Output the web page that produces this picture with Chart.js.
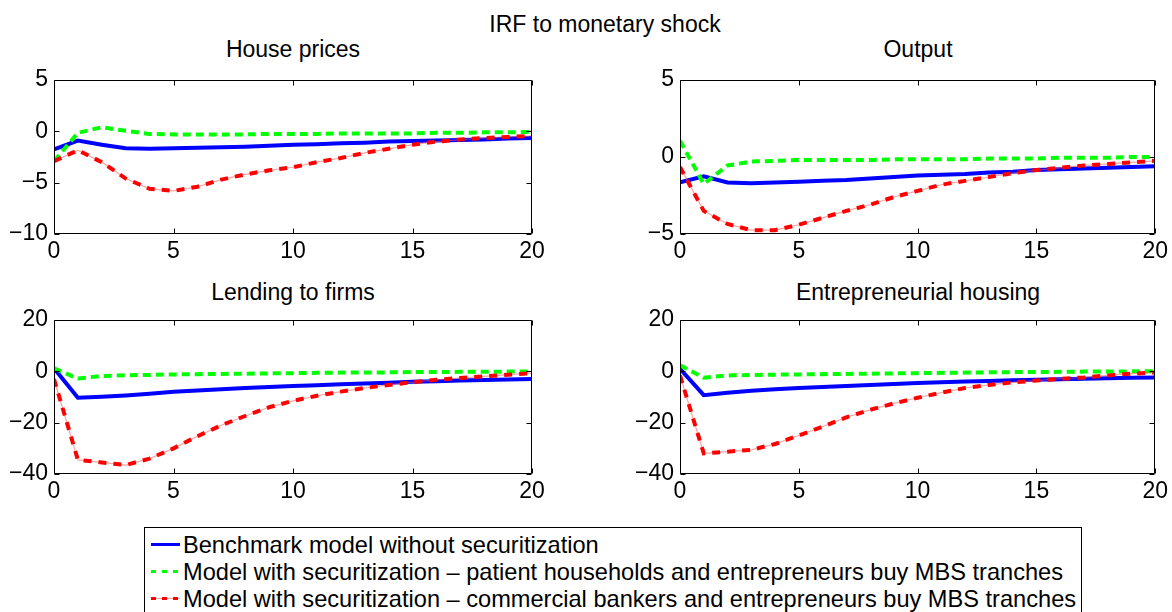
<!DOCTYPE html>
<html>
<head>
<meta charset="utf-8">
<title>IRF to monetary shock</title>
<script src="https://cdn.jsdelivr.net/npm/chart.js@4"></script>
<style>
  html, body { margin: 0; padding: 0; background: #fff; }
  body {
    width: 1172px; height: 612px; position: relative; overflow: hidden;
    font-family: "Liberation Sans", Arial, Helvetica, sans-serif; color: #000;
  }
  .panel { position: absolute; }
  .title {
    position: absolute; font-size: 23px; line-height: 23px;
    white-space: nowrap; transform: translateX(-50%);
  }
  #legend {
    position: absolute; left: 144px; top: 527px; width: 936px; height: 120px;
    border: 1px solid #000; background: #fff;
  }
  .row { position: absolute; left: 0; height: 27px; font-size: 23.6px; line-height: 27px; white-space: nowrap; }
  .row svg { position: absolute; left: 6px; top: 0; }
  .row span { position: absolute; left: 38px; top: 0; }
</style>
</head>
<body>
<div class="title" style="left:605px;top:13px">IRF to monetary shock</div>
<div class="title" style="left:293px;top:38px">House prices</div>
<div class="title" style="left:918px;top:38px">Output</div>
<div class="title" style="left:293px;top:281px">Lending to firms</div>
<div class="title" style="left:918px;top:281px">Entrepreneurial housing</div>

<div class="panel" style="left:0;top:60px;width:560px;height:210px"><canvas id="housePrices"></canvas></div>
<div class="panel" style="left:620px;top:60px;width:552px;height:210px"><canvas id="output"></canvas></div>
<div class="panel" style="left:0;top:300px;width:560px;height:210px"><canvas id="lending"></canvas></div>
<div class="panel" style="left:620px;top:300px;width:552px;height:210px"><canvas id="entHousing"></canvas></div>

<div id="legend">
  <div class="row" style="top:3.5px">
    <svg width="30" height="27"><line x1="0" y1="12.5" x2="29" y2="12.5" stroke="#0000ff" stroke-width="3"/></svg>
    <span>Benchmark model without securitization</span>
  </div>
  <div class="row" style="top:30.5px">
    <svg width="30" height="27"><line x1="0" y1="12.5" x2="29" y2="12.5" stroke="#00ff00" stroke-width="3" stroke-dasharray="5 6"/></svg>
    <span>Model with securitization – patient households and entrepreneurs buy MBS tranches</span>
  </div>
  <div class="row" style="top:57.5px">
    <svg width="30" height="27">
      <line x1="0" y1="12.5" x2="29" y2="12.5" stroke="rgba(255,90,90,0.55)" stroke-width="1"/>
      <line x1="0" y1="12.5" x2="29" y2="12.5" stroke="#ff0000" stroke-width="3" stroke-dasharray="5 6"/>
    </svg>
    <span>Model with securitization – commercial bankers and entrepreneurs buy MBS tranches</span>
  </div>
</div>

<script>
const periods = [0, 1, 2, 3, 4, 5, 6, 7, 8, 9, 10, 11, 12, 13, 14, 15, 16, 17, 18, 19, 20];
const xTicks = [0, 5, 10, 15, 20];

// House prices
const houseBenchmark = [-1.75, -0.9, -1.3, -1.65, -1.7, -1.65, -1.6, -1.55, -1.5, -1.4, -1.3, -1.25, -1.15, -1.1, -1.0, -0.95, -0.9, -0.85, -0.8, -0.7, -0.65];
const housePatient = [-2.9, -0.15, 0.4, 0.05, -0.25, -0.3, -0.3, -0.3, -0.3, -0.25, -0.25, -0.25, -0.2, -0.2, -0.2, -0.2, -0.15, -0.15, -0.1, -0.1, -0.05];
const houseBankers = [-2.9, -1.85, -3.0, -4.6, -5.6, -5.8, -5.4, -4.7, -4.2, -3.8, -3.5, -3.0, -2.6, -2.1, -1.7, -1.3, -1.0, -0.8, -0.65, -0.55, -0.45];

// Output
const outputBenchmark = [-1.65, -1.25, -1.65, -1.7, -1.65, -1.6, -1.55, -1.5, -1.4, -1.3, -1.2, -1.15, -1.1, -1.0, -0.95, -0.85, -0.8, -0.75, -0.7, -0.65, -0.6];
const outputPatient = [1.05, -1.75, -0.55, -0.3, -0.25, -0.2, -0.2, -0.2, -0.2, -0.15, -0.15, -0.15, -0.15, -0.1, -0.1, -0.1, -0.05, -0.05, -0.05, 0, 0];
const outputBankers = [-0.65, -3.5, -4.35, -4.75, -4.75, -4.4, -3.95, -3.5, -3.1, -2.6, -2.2, -1.8, -1.55, -1.3, -1.05, -0.85, -0.7, -0.55, -0.45, -0.35, -0.25];

// Lending to firms
const lendingBenchmark = [1.2, -10.3, -9.9, -9.4, -8.7, -8.0, -7.5, -7.0, -6.5, -6.1, -5.7, -5.4, -5.0, -4.7, -4.4, -4.1, -3.9, -3.6, -3.4, -3.2, -3.0];
const lendingPatient = [1.2, -2.8, -1.8, -1.5, -1.4, -1.2, -1.1, -1.0, -0.9, -0.8, -0.7, -0.6, -0.5, -0.5, -0.4, -0.3, -0.3, -0.2, -0.2, -0.1, -0.1];
const lendingBankers = [-3.0, -34.5, -35.5, -36.5, -34.0, -30.0, -25.3, -21.0, -17.4, -14.0, -11.5, -9.5, -7.9, -6.5, -5.3, -4.2, -3.3, -2.6, -2.0, -1.3, -0.7];

// Entrepreneurial housing
const entBenchmark = [1.0, -9.3, -8.3, -7.6, -7.0, -6.5, -6.1, -5.7, -5.3, -4.9, -4.5, -4.3, -4.0, -3.8, -3.5, -3.3, -3.1, -2.9, -2.7, -2.5, -2.4];
const entPatient = [2.4, -2.5, -1.6, -1.4, -1.3, -1.2, -1.1, -1.0, -0.9, -0.8, -0.7, -0.6, -0.5, -0.4, -0.3, -0.3, -0.2, -0.1, -0.1, 0, 0];
const entBankers = [-1.6, -32.0, -31.3, -30.6, -28.3, -25.0, -21.6, -17.9, -15.0, -12.5, -10.3, -8.3, -6.5, -5.3, -4.3, -3.6, -2.9, -2.4, -1.6, -0.9, -0.5];

const FONT = { family: '"Liberation Sans", Arial, Helvetica, sans-serif', size: 23 };

// matlab-style box with inward ticks
const boxPlugin = {
  id: 'matlabBox',
  afterDatasetsDraw(chart) {
    const { ctx, chartArea: a, scales } = chart;
    const L = Math.round(a.left) + 0.5, R = Math.round(a.right) - 0.5;
    const T = Math.round(a.top) + 0.5, B = Math.round(a.bottom) - 0.5;
    const len = 5;
    ctx.save();
    ctx.strokeStyle = '#000';
    ctx.lineWidth = 1;
    ctx.beginPath();
    ctx.rect(L, T, R - L, B - T);
    scales.x.ticks.forEach((t) => {
      const px = Math.round(scales.x.getPixelForValue(t.value)) + 0.5;
      ctx.moveTo(px, B); ctx.lineTo(px, B - len);
      ctx.moveTo(px, T); ctx.lineTo(px, T + len);
    });
    scales.y.ticks.forEach((t) => {
      const py = Math.round(scales.y.getPixelForValue(t.value)) + 0.5;
      ctx.moveTo(L, py); ctx.lineTo(L + len, py);
      ctx.moveTo(R, py); ctx.lineTo(R - len, py);
    });
    ctx.stroke();
    ctx.restore();
  },
};

function points(values) {
  return periods.map((p, i) => ({ x: p, y: values[i] }));
}

function makePanel(id, series, yRange, yStep, yWidth, padRight) {
  const [benchmark, patient, bankers] = series;
  return new Chart(document.getElementById(id), {
    type: 'line',
    data: {
      datasets: [
        { data: points(bankers), borderColor: '#ff0000', borderWidth: 4, borderDash: [8, 7], pointRadius: 0, tension: 0 },
        { data: points(bankers), borderColor: 'rgba(255,90,90,0.55)', borderWidth: 1.2, pointRadius: 0, tension: 0 },
        { data: points(patient), borderColor: '#00ff00', borderWidth: 4, borderDash: [8, 5], pointRadius: 0, tension: 0 },
        { data: points(benchmark), borderColor: '#0000ff', borderWidth: 4, pointRadius: 0, tension: 0 },
      ],
    },
    options: {
      responsive: true,
      maintainAspectRatio: false,
      animation: false,
      layout: { padding: { top: 20, right: padRight, left: 0, bottom: 0 } },
      plugins: { legend: { display: false }, tooltip: { enabled: false } },
      scales: {
        x: {
          type: 'linear', min: 0, max: 20,
          afterBuildTicks: (scale) => { scale.ticks = xTicks.map((v) => ({ value: v })); },
          afterFit: (scale) => { scale.height = 36; },
          grid: { display: false, drawTicks: false },
          border: { display: false },
          ticks: { color: '#000', font: FONT, padding: 4, maxRotation: 0 },
        },
        y: {
          min: yRange[0], max: yRange[1],
          afterFit: (scale) => { scale.width = yWidth; },
          grid: { display: false, drawTicks: false },
          border: { display: false },
          ticks: {
            color: '#000', font: FONT, padding: 6, stepSize: yStep,
            callback: (v) => String(v).replace('-', '\u2212'),
          },
        },
      },
    },
    plugins: [boxPlugin],
  });
}

makePanel('housePrices', [houseBenchmark, housePatient, houseBankers], [-10, 5], 5, 54, 28);
makePanel('output', [outputBenchmark, outputPatient, outputBankers], [-5, 5], 5, 60, 15);
makePanel('lending', [lendingBenchmark, lendingPatient, lendingBankers], [-40, 20], 20, 54, 28);
makePanel('entHousing', [entBenchmark, entPatient, entBankers], [-40, 20], 20, 60, 15);
</script>
</body>
</html>
